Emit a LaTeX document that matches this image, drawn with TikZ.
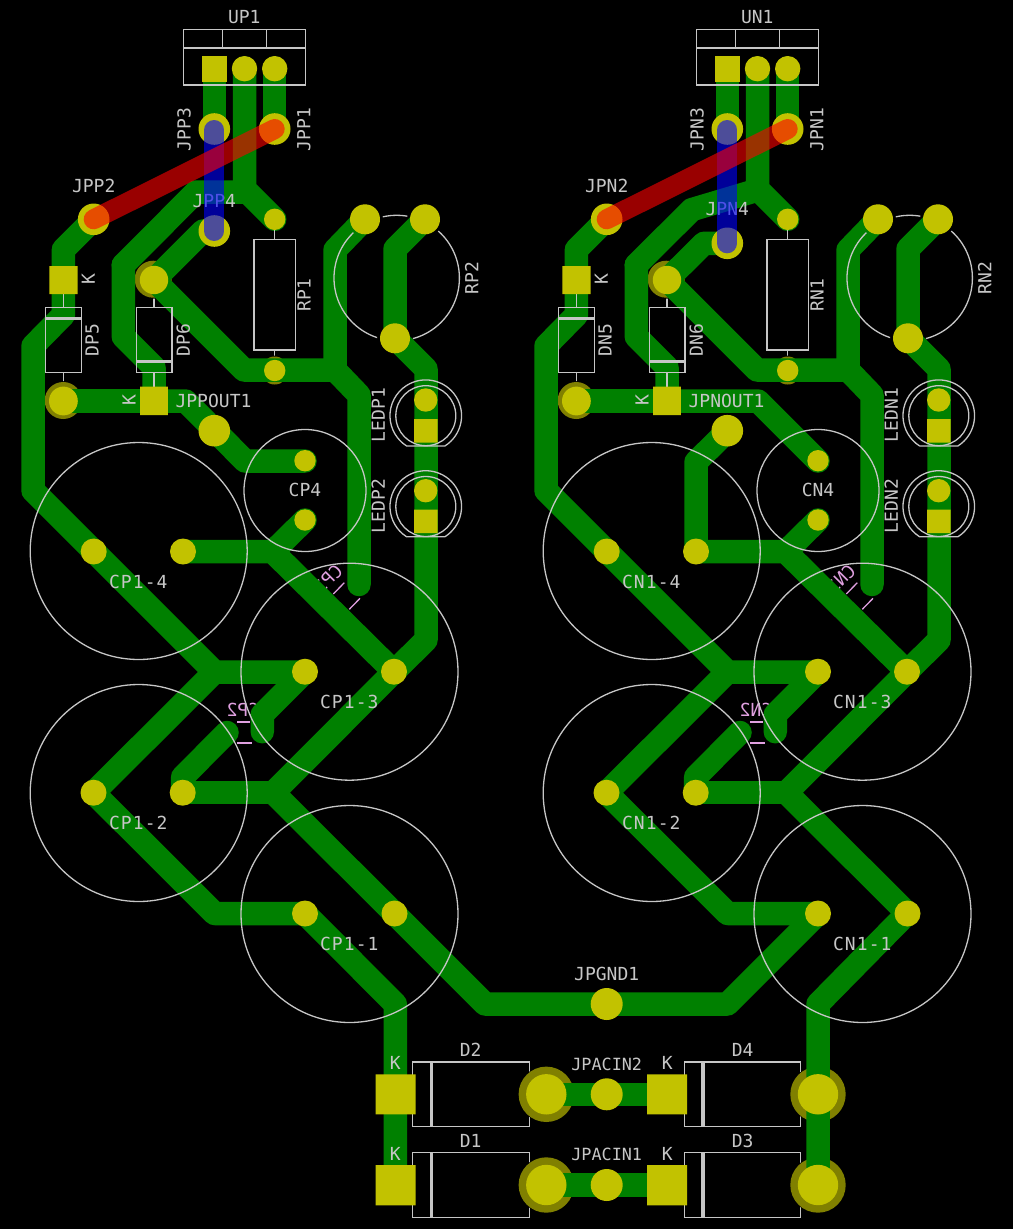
\documentclass[tikz,border=0pt]{standalone}
\usepackage{graphicx}
\usepackage{fontspec}
\newfontfamily\pcbfont{DejaVu Sans Mono}
\definecolor{trk}{HTML}{008000}
\definecolor{padc}{HTML}{C2C200}
\definecolor{ring}{HTML}{808000}
\definecolor{silkc}{HTML}{C6C6C6}
\definecolor{backc}{HTML}{E0A0E0}
\tikzset{
  trace/.style={draw=trk,line width=23.5pt,line cap=round,line join=round},
  silk/.style={draw=silkc,line width=1.3pt},
  bar/.style={draw=silkc,line width=3.5pt},
  backsilk/.style={draw=backc,line width=1.3pt},
  padf/.style={fill=padc},
  ringf/.style={fill=ring},
  lbl/.style={text=silkc,inner sep=0pt,font=\pcbfont\fontsize{18}{20}\selectfont},
  acinlbl/.style={text=silkc,inner sep=0pt,font=\pcbfont\fontsize{16.8}{20}\selectfont},
  caplbl/.style={text=silkc,inner sep=0pt,font=\pcbfont\fontsize{18}{20}\selectfont\addfontfeature{LetterSpace=6}},
  backlbl/.style={text=backc,inner sep=0pt,font=\pcbfont\fontsize{18}{20}\selectfont},
  vlbl/.style={lbl,rotate=90},
  jumpblue/.style={draw=blue,opacity=.6,line width=20pt,line cap=round},
  jumpred/.style={draw=red,opacity=.6,line width=20pt,line cap=round}
}
% #1 P or N, #2 y of JP?4 pad, #3 y of JP?4 label, #4 extra tracks
\newcommand{\halfboard}[4]{%
  % back silkscreen
  \draw[backsilk] (237,722)--(250,722) (237,743)--(252,743);
  \draw[backsilk] (333.3,594)--(344.3,582.7) (349.3,609.3)--(360,598.3);
  \node[backlbl] (cb2#1) at (243,710) {\reflectbox{C#12}};
  \node[backlbl,rotate=45] (cb3#1) at (328,579) {\reflectbox{C#13}};
  % olive rings
  \fill[ringf] (63.2,400.5) circle (18.5) (153.2,279.2) circle (18.5) (274.7,370.5) circle (14);
  % copper
  \draw[trace] (214.4,68)--(214.4,129);
  \draw[trace] (274.7,68)--(274.7,129);
  \draw[trace] (244.5,68)--(244.5,189)--(274.7,219.3);
  \draw[trace] (93.7,219.3)--(63.4,249.6)--(63.4,315)--(33,346)--(33,490.6)--(214.6,672)--(305,672);
  \draw[trace] (214.6,672)--(93.5,792.7)--(214.6,913.5)--(305,913.5);
  \draw[trace] (123.3,265)--(123.3,336.6)--(154,367.3)--(154,401);
  \draw[trace] (63.4,401)--(154,401);
  \draw[trace] (154,280)--(244,370)--(335,370)--(359,395)--(359,584.5);
  \draw[trace] (365,219)--(335,250)--(335,370);
  \draw[trace] (425,219)--(395,249)--(395,338)--(426,369)--(426,640)--(394,671.7)--(273.4,792.7)--(394.5,913.5);
  \draw[trace] (182.7,792.7)--(273.4,792.7);
  \draw[trace] (183,551.5)--(272.5,551.5)--(394,671.7);
  \draw[trace] (305,520)--(273,551.5);
  \draw[trace] (305,671.7)--(262.3,714.4)--(262.3,731.7);
  \draw[trace] (227,732.5)--(182.7,777)--(182.7,792.7);
  #4
  % silkscreen, kept clear of the pads
  \begin{scope}[even odd rule]
    \clip (-10,-10) rectangle (480,1040)
      (365,219) circle (18) (425,219) circle (18) (395,338) circle (18)
      (63.2,400.5) circle (19.5) (153.2,279.2) circle (19.5) (274.7,370.5) circle (15);
    \draw[silk] (183.5,29.5) rectangle (305.5,85) (183.5,48)--(305.5,48) (222.5,29.5)--(222.5,48) (266.5,29.5)--(266.5,48);
    \draw[silk] (396.7,278) circle (62.7);
    \draw[silk] (254,239.3) rectangle (295.7,350) (274.7,229)--(274.7,239.3) (274.7,350)--(274.7,360);
    \draw[silk] (45.7,307.3) rectangle (81.3,372.7) (63.4,294)--(63.4,307.3) (63.4,372.7)--(63.4,386);
    \draw[bar] (45.7,318.5)--(81.3,318.5);
    \draw[silk] (136.3,307.3) rectangle (172,372.7) (154,294)--(154,307.3) (154,372.7)--(154,387);
    \draw[bar] (136.3,361.5)--(172,361.5);
    \foreach \ly in {415.7,506.5}{
      \draw[silk] (425.8,\ly) circle (30);
      \draw[silk] (445,\ly+30.2) arc[start angle=57.5,end angle=-237.5,radius=35.8] -- cycle;
    }
    \draw[silk] (138.7,551) circle (108.5) (138.7,793) circle (108.5);
    \draw[silk] (349.5,671.7) circle (108.5) (349.5,914) circle (108.5);
    \draw[silk] (305,490.5) circle (61);
  \end{scope}
  % labels
  \node[lbl] (u#1) at (244.3,17.5) {U#11};
  \node[vlbl] (jp3#1) at (184,129.5) {JP#13};
  \node[vlbl] (jp1#1) at (304,129.5) {JP#11};
  \node[lbl] (jp2#1) at (93.7,185.7) {JP#12};
  \node[lbl] (jp4#1) at (214.3,#3) {JP#14};
  \node[vlbl] (r1#1) at (304,295) {R#11};
  \node[vlbl] (r2#1) at (471.7,278) {R#12};
  \node[vlbl] (d5#1) at (92.3,340) {D#15};
  \node[vlbl] (d6#1) at (183.3,340) {D#16};
  \node[vlbl] (k5#1) at (88.3,279.5) {K};
  \node[vlbl] (k6#1) at (129,400.5) {K};
  \node[lbl] (jo#1) at (213.5,400.5) {JP#1OUT1};
  \node[vlbl] (l1#1) at (378.3,415) {LED#11};
  \node[vlbl] (l2#1) at (378.3,506) {LED#12};
  \node[caplbl] (c14#1) at (138.3,581.7) {C#11-4};
  \node[caplbl] (c13#1) at (349.3,702.3) {C#11-3};
  \node[caplbl] (c12#1) at (138.3,823) {C#11-2};
  \node[caplbl] (c11#1) at (349.3,944) {C#11-1};
  \node[lbl] (c4#1) at (305,490) {C#14};
  % pads
  \fill[padf] (202,55.7) rectangle (226.9,81.7);
  \fill[padf] (244.5,68.7) circle (12.7) (274.7,68.7) circle (12.7);
  \fill[padf] (214.3,129) circle (15.8) (274.7,129) circle (15.8) (93.7,219.3) circle (15.8) (214.3,#2) circle (15.8);
  \fill[padf] (274.7,219.3) circle (10.7) (274.7,370.5) circle (10.7);
  \fill[padf] (365,219.3) circle (15) (425,219.3) circle (15) (395,338.3) circle (15);
  \fill[padf] (154,280) circle (14.2) (63.4,401) circle (14.4);
  \fill[padf] (49.3,266) rectangle (77.7,294) (140,386.7) rectangle (167.8,415);
  \fill[padf] (214.3,430.7) circle (15.8);
  \fill[padf] (425.7,400) circle (11.7) (425.7,490.7) circle (11.7);
  \fill[padf] (414,419) rectangle (437.5,442.7) (414,509.7) rectangle (437.5,533);
  \fill[padf] (305,460.7) circle (10.7) (305,520) circle (10.7);
  \fill[padf] (93.7,551.5) circle (13) (183,551.5) circle (13) (305,671.7) circle (13) (394,671.7) circle (13);
  \fill[padf] (93.5,792.7) circle (13) (182.7,792.7) circle (13) (305,913.5) circle (13) (394.5,913.5) circle (13);
  % jumpers
  \draw[jumpblue] (214.3,130)--(214.3,#2);
  \draw[jumpred] (93.7,219.3)--(274.7,129);
}
\begin{document}
\begin{tikzpicture}[x=1pt,y=-1pt]
  \fill[black] (0,0) rectangle (1013,1229);
  \useasboundingbox (0,0) rectangle (1013,1229);
  % bottom section: rings and copper first
  \fill[ringf] (546.3,1094.3) circle (27.7) (546.3,1185) circle (27.7) (818,1094.3) circle (27.7) (818,1185) circle (27.7);
  \draw[trace] (305,913.5)--(395.3,1004)--(395.3,1185);
  \draw[trace] (394.5,913.5)--(485,1004)--(727.5,1004)--(818,913.5);
  \draw[trace] (907,913.5)--(818,1004)--(818,1185);
  \draw[trace] (546.3,1094.3)--(667,1094.3);
  \draw[trace] (546.3,1185)--(667,1185);
  % the two regulators
  \halfboard{P}{231}{200.7}{%
    \draw[trace] (244.5,192)--(196,192)--(123.3,265);
    \draw[trace] (154,280)--(203,231)--(214.3,231);
    \draw[trace] (154,401)--(185.6,401)--(245,461)--(305,461);
  }
  \begin{scope}[xshift=513pt]
    \halfboard{N}{243.3}{209.3}{%
      \draw[trace] (244.7,190)--(178.7,209.7)--(123.3,265);
      \draw[trace] (154,280)--(191,243.3)--(214.3,243.3);
      \draw[trace] (154,401)--(245,401)--(305,461);
      \draw[trace] (214.3,431)--(183,462)--(183,551.5);
    }
  \end{scope}
  % bottom section: silkscreen
  \begin{scope}[even odd rule]
    \clip (350,1030) rectangle (900,1229)
      (546.3,1094.3) circle (28.5) (546.3,1185) circle (28.5) (818,1094.3) circle (28.5) (818,1185) circle (28.5);
    \draw[silk] (412.7,1062) rectangle (529.3,1126.7) (412.7,1152.7) rectangle (529.3,1217.3);
    \draw[silk] (684.7,1062) rectangle (800.7,1126.7) (684.7,1152.7) rectangle (800.7,1217.3);
    \draw[bar] (431.3,1062)--(431.3,1126.7) (431.3,1152.7)--(431.3,1217.3);
    \draw[bar] (703,1062)--(703,1126.7) (703,1152.7)--(703,1217.3);
  \end{scope}
  \node[lbl] (d2) at (470.7,1050) {D2};
  \node[lbl] (d1) at (470.7,1140.7) {D1};
  \node[lbl] (d4) at (742.7,1050) {D4};
  \node[lbl] (d3) at (742.7,1140.7) {D3};
  \node[lbl] (kd2) at (395.3,1063.3) {K};
  \node[lbl] (kd1) at (395.3,1154) {K};
  \node[lbl] (kd4) at (667.3,1063.3) {K};
  \node[lbl] (kd3) at (667.3,1154) {K};
  \node[acinlbl] (acin2) at (606.7,1064) {JPACIN2};
  \node[acinlbl] (acin1) at (606.7,1154.3) {JPACIN1};
  \node[lbl] (gnd) at (606.7,974) {JPGND1};
  % bottom section: pads
  \fill[padf] (606.7,1004) circle (16) (606.7,1094.3) circle (16) (606.7,1185) circle (16);
  \fill[padf] (546.3,1094.3) circle (20.2) (546.3,1185) circle (20.2) (818,1094.3) circle (20.2) (818,1185) circle (20.2);
  \fill[padf] (375.7,1074.3) rectangle (415.7,1114.3) (375.7,1165) rectangle (415.7,1205.3);
  \fill[padf] (647,1074.3) rectangle (687,1114.3) (647,1165) rectangle (687,1205.3);
\end{tikzpicture}
\end{document}
